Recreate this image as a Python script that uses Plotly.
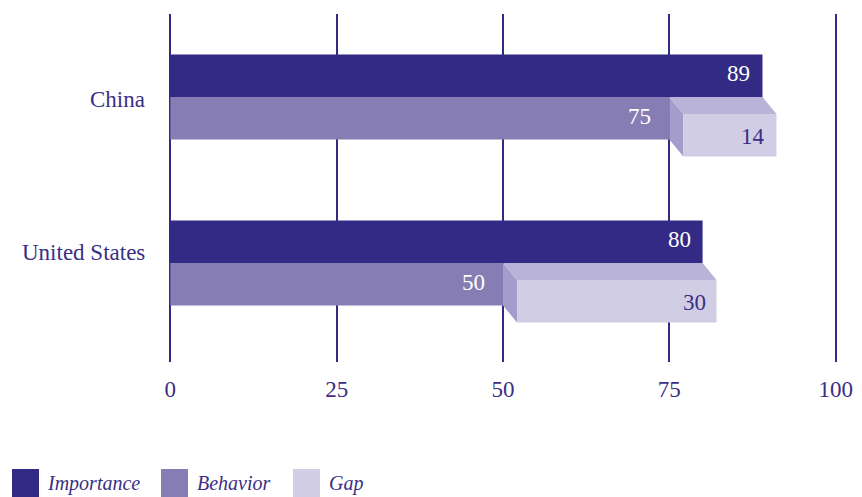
import plotly.graph_objects as go

# ---- data ----
categories = ["China", "United States"]
importance = [89, 80]
behavior = [75, 50]
gap = [14, 30]
x_ticks = [0, 25, 50, 75, 100]
legend_labels = ["Importance", "Behavior", "Gap"]

# ---- style ----
C_IMP = "#332a85"
C_BEH = "#857db4"
C_GAP_FRONT = "#d0cde4"
C_GAP_TOP = "#b9b4d7"
C_GAP_SIDE = "#a49dcb"
C_TEXT = "#3b2f85"
FONT = "Liberation Serif"

W, H = 862, 497
X_RANGE = [-0.5, 100.5]
ML, MR, MT, MB = 167, 23, 14, 135
PW, PH = W - ML - MR, H - MT - MB
Y_RANGE = [1.596, -0.5]          # reversed numeric category axis
BAR_H = 0.256                    # bar thickness (axis units)
DEPTH_X = 2.1                    # 3D depth offset, x units
DEPTH_Y = 0.102                  # 3D depth offset, y units

fig = go.Figure()
ypos = list(range(len(categories)))

fig.add_trace(go.Bar(
    y=ypos, x=importance, orientation="h", name="Importance",
    marker=dict(color=C_IMP, line=dict(width=0)),
    width=BAR_H, offset=-BAR_H, hoverinfo="x+name"))
fig.add_trace(go.Bar(
    y=ypos, x=behavior, orientation="h", name="Behavior",
    marker=dict(color=C_BEH, line=dict(width=0)),
    width=BAR_H, offset=0, hoverinfo="x+name"))

annotations = []
for i, (imp, beh, g) in enumerate(zip(importance, behavior, gap)):
    y0 = i
    # side face
    fig.add_trace(go.Scatter(
        x=[beh, beh + DEPTH_X, beh + DEPTH_X, beh, beh],
        y=[y0, y0 + DEPTH_Y, y0 + DEPTH_Y + BAR_H, y0 + BAR_H, y0],
        fill="toself", fillcolor=C_GAP_SIDE, mode="lines",
        line=dict(width=0, color=C_GAP_SIDE), hoverinfo="skip", showlegend=False))
    # top face
    fig.add_trace(go.Scatter(
        x=[beh, beh + g, beh + g + DEPTH_X, beh + DEPTH_X, beh],
        y=[y0, y0, y0 + DEPTH_Y, y0 + DEPTH_Y, y0],
        fill="toself", fillcolor=C_GAP_TOP, mode="lines",
        line=dict(width=0, color=C_GAP_TOP), hoverinfo="skip", showlegend=False))
    # front face
    fig.add_trace(go.Scatter(
        x=[beh + DEPTH_X, beh + g + DEPTH_X, beh + g + DEPTH_X, beh + DEPTH_X, beh + DEPTH_X],
        y=[y0 + DEPTH_Y, y0 + DEPTH_Y, y0 + DEPTH_Y + BAR_H, y0 + DEPTH_Y + BAR_H, y0 + DEPTH_Y],
        fill="toself", fillcolor=C_GAP_FRONT, mode="lines",
        line=dict(width=0, color=C_GAP_FRONT), name="Gap",
        hovertext=f"Gap: {g}", hoverinfo="text", showlegend=False))

    annotations.append(dict(x=imp, y=y0 - BAR_H / 2, text=str(imp), showarrow=False,
                            xanchor="right", xshift=-10, yshift=2,
                            font=dict(family=FONT, size=23, color="white")))
    annotations.append(dict(x=beh, y=y0 + BAR_H / 2, text=str(beh), showarrow=False,
                            xanchor="right", xshift=-16, yshift=2,
                            font=dict(family=FONT, size=23, color="white")))
    annotations.append(dict(x=beh + g + DEPTH_X, y=y0 + DEPTH_Y + BAR_H / 2, text=str(g),
                            showarrow=False, xanchor="right", xshift=-9, yshift=-1,
                            font=dict(family=FONT, size=23, color=C_TEXT)))

# category labels
cat_shift = [-2, 11]
for i, name in enumerate(categories):
    annotations.append(dict(x=0, y=i, text=name, showarrow=False, xanchor="right",
                            xshift=-23, yshift=cat_shift[i],
                            font=dict(family=FONT, size=23, color=C_TEXT)))

# manual legend (pixel helpers)
def px_x(p):
    return (p - ML) / PW

def px_y(p):
    return (H - MB - p) / PH

shapes = []
legend_items = [(legend_labels[0], C_IMP, 12, 45),
                (legend_labels[1], C_BEH, 161, 195),
                (legend_labels[2], C_GAP_FRONT, 293, 327)]
for label, col, sx, tx in legend_items:
    shapes.append(dict(type="rect", xref="paper", yref="paper",
                       x0=px_x(sx), x1=px_x(sx + 27), y0=px_y(497), y1=px_y(469),
                       fillcolor=col, line=dict(width=0), layer="above"))
    annotations.append(dict(xref="paper", yref="paper", x=px_x(tx), y=px_y(483),
                            text=f"<i>{label}</i>", showarrow=False,
                            xanchor="left", yanchor="middle",
                            font=dict(family=FONT, size=20, color=C_TEXT)))

fig.update_layout(
    width=W, height=H,
    margin=dict(l=ML, r=MR, t=MT, b=MB, autoexpand=False),
    paper_bgcolor="white", plot_bgcolor="white",
    barmode="overlay", showlegend=False,
    annotations=annotations, shapes=shapes,
    xaxis=dict(range=X_RANGE, tickvals=x_ticks, ticktext=[str(v) for v in x_ticks],
               showgrid=True, gridcolor=C_IMP, gridwidth=2,
               zeroline=False, showline=False, ticks="", automargin=False,
               ticklabelstandoff=11,
               tickfont=dict(family=FONT, size=23, color=C_TEXT), fixedrange=True),
    yaxis=dict(range=Y_RANGE, showgrid=False, zeroline=False, showline=False,
               showticklabels=False, ticks="", automargin=False, fixedrange=True),
)

fig.write_html("out.html", config={"displayModeBar": False},
               post_script="document.body.style.margin='0';document.body.style.overflow='hidden';")
